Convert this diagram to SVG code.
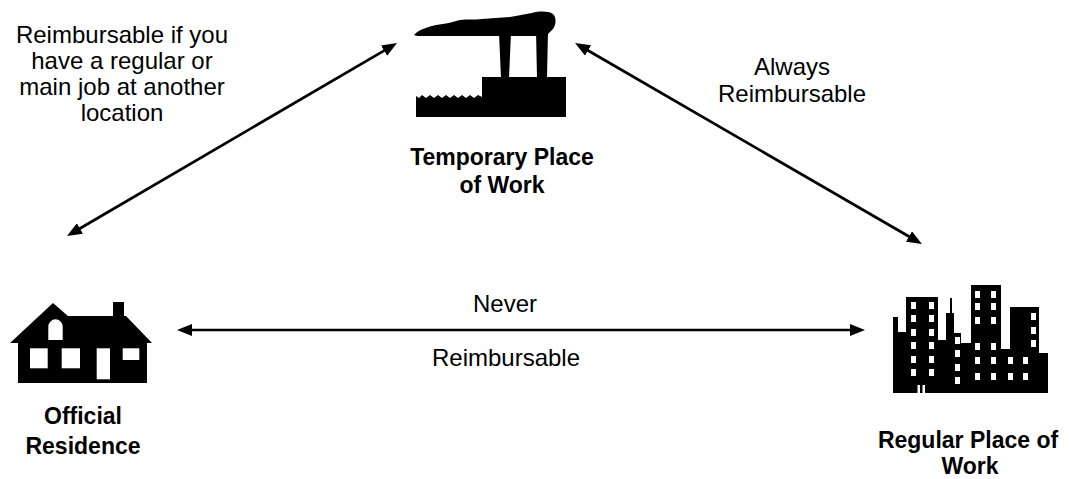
<svg xmlns="http://www.w3.org/2000/svg" width="1069" height="479" viewBox="0 0 1069 479">
<style>
text{font-family:"Liberation Sans",Arial,sans-serif;font-size:24px;fill:#000;text-anchor:middle}
.b{font-weight:bold;font-size:23px}
.ln{stroke:#000;stroke-width:2.7;fill:none;marker-start:url(#ah);marker-end:url(#ah)}
.ic{fill:#000}
.w{fill:#fff}
</style>
<defs>
<marker id="ah" viewBox="0 0 15 12" refX="5" refY="6" markerWidth="15" markerHeight="12" markerUnits="userSpaceOnUse" orient="auto-start-reverse">
<path d="M0,0 L15,6 L0,12 Z" fill="#000"/>
</marker>
</defs>
<rect width="1069" height="479" fill="#fff"/>
<g id="connectors">
<line class="ln" x1="75.6" y1="231" x2="388.4" y2="48.1"/>
<line class="ln" x1="583.7" y1="48" x2="913.3" y2="239"/>
<line class="ln" x1="187" y1="330" x2="855" y2="330"/>
</g>
<g id="labels">
<text x="122" y="43">Reimbursable if you</text>
<text x="122" y="69">have a regular or</text>
<text x="122" y="95">main job at another</text>
<text x="122" y="121">location</text>
<text x="792" y="75">Always</text>
<text x="792" y="102">Reimbursable</text>
<text x="505" y="312">Never</text>
<text x="506" y="366">Reimbursable</text>
</g>
<g id="temporary">
<path class="ic" d="M415,34 C420,29 428,27 436,25 C446,24 452,22 460,20 C468,19 474,20 482,19 C492,18 500,18 510,17 C518,16 524,14 532,13 C540,11 548,11 553,14 C557,18 556,26 552,30 L548,34 L548,36 L418,36 C415,36 413,35 415,34 Z"/>
<path class="ic" d="M499,33 L511,33 L509,78 L501,78 Z"/>
<path class="ic" d="M536,30 L548,30 L547,78 L537,78 Z"/>
<path class="ic" d="M482,77 L566,77 L566,117 L416,117 L416,96 L419,98 L422,95 L426,98 L430,95 L434,98 L438,95 L442,98 L446,95 L450,98 L454,95 L458,98 L462,95 L466,98 L470,95 L474,98 L478,95 L482,97 Z"/>
<text class="b" x="502" y="165">Temporary Place</text>
<text class="b" x="502" y="193">of Work</text>
</g>
<g id="residence">
<path class="ic" d="M10,343 L53,303 L68,316 L113,316 L113,302 L124,302 L124,316 L126,316 L152,343 L147,343 L147,383 L18,383 L18,343 Z"/>
<path class="w" d="M48.3,340 L48.3,326.5 A7.2,7.2 0 0 1 62.7,326.5 L62.7,340 Z"/>
<rect class="w" x="30" y="348.3" width="17.7" height="20"/>
<rect class="w" x="61.7" y="348.3" width="18.3" height="20"/>
<rect class="w" x="96.7" y="348.3" width="13.3" height="31"/>
<rect class="w" x="122.7" y="348.3" width="16.6" height="11.7"/>
<text class="b" x="83" y="424">Official</text>
<text class="b" x="83" y="454">Residence</text>
</g>
<g id="regular">
<path class="ic" d="M893,393 L893,317 L898,317 L898,332 L906,332 L906,297 L938,297 L938,340 L946,340 L946,313 L950,313 L950,298 L952,298 L952,313 L954,313 L954,333 L961,333 L961,343 L971,343 L971,285 L1001,285 L1001,349 L1010,349 L1010,307 L1039,307 L1039,353 L1048,353 L1048,393 Z"/>
<g class="w">
<rect x="911" y="302" width="5" height="7"/><rect x="929" y="302" width="5" height="7"/>
<rect x="911" y="315" width="5" height="7"/><rect x="929" y="315" width="5" height="7"/>
<rect x="911" y="329" width="5" height="7"/><rect x="929" y="329" width="5" height="7"/>
<rect x="911" y="342" width="5" height="7"/><rect x="929" y="342" width="5" height="7"/>
<rect x="911" y="356" width="5" height="7"/><rect x="929" y="356" width="5" height="7"/>
<rect x="911" y="369" width="5" height="7"/><rect x="929" y="369" width="5" height="7"/>
<rect x="917.5" y="385" width="2.5" height="8"/><rect x="922.5" y="385" width="2.5" height="8"/>
<rect x="955" y="337" width="5" height="7"/>
<rect x="955" y="350" width="5" height="7"/>
<rect x="955" y="364" width="5" height="7"/>
<rect x="955" y="377" width="5" height="7"/>
<rect x="975" y="291" width="5" height="7"/><rect x="991" y="291" width="5" height="7"/>
<rect x="975" y="303" width="5" height="7"/><rect x="991" y="303" width="5" height="7"/>
<rect x="975" y="317" width="5" height="7"/><rect x="991" y="317" width="5" height="7"/>
<rect x="975" y="343" width="5" height="7"/><rect x="991" y="343" width="5" height="7"/>
<rect x="975" y="357" width="5" height="7"/><rect x="991" y="357" width="5" height="7"/>
<rect x="1008" y="357" width="5" height="7"/><rect x="1023" y="357" width="5" height="7"/>
<rect x="975" y="373" width="5" height="7"/><rect x="991" y="373" width="5" height="7"/>
<rect x="1008" y="373" width="5" height="7"/><rect x="1023" y="373" width="5" height="7"/>
<rect x="1031" y="313" width="5" height="7"/>
<rect x="1031" y="327" width="5" height="7"/>
<rect x="1031" y="340" width="5" height="7"/>
</g>
<text class="b" x="968" y="448">Regular Place of</text>
<text class="b" x="970" y="474">Work</text>
</g>
</svg>
